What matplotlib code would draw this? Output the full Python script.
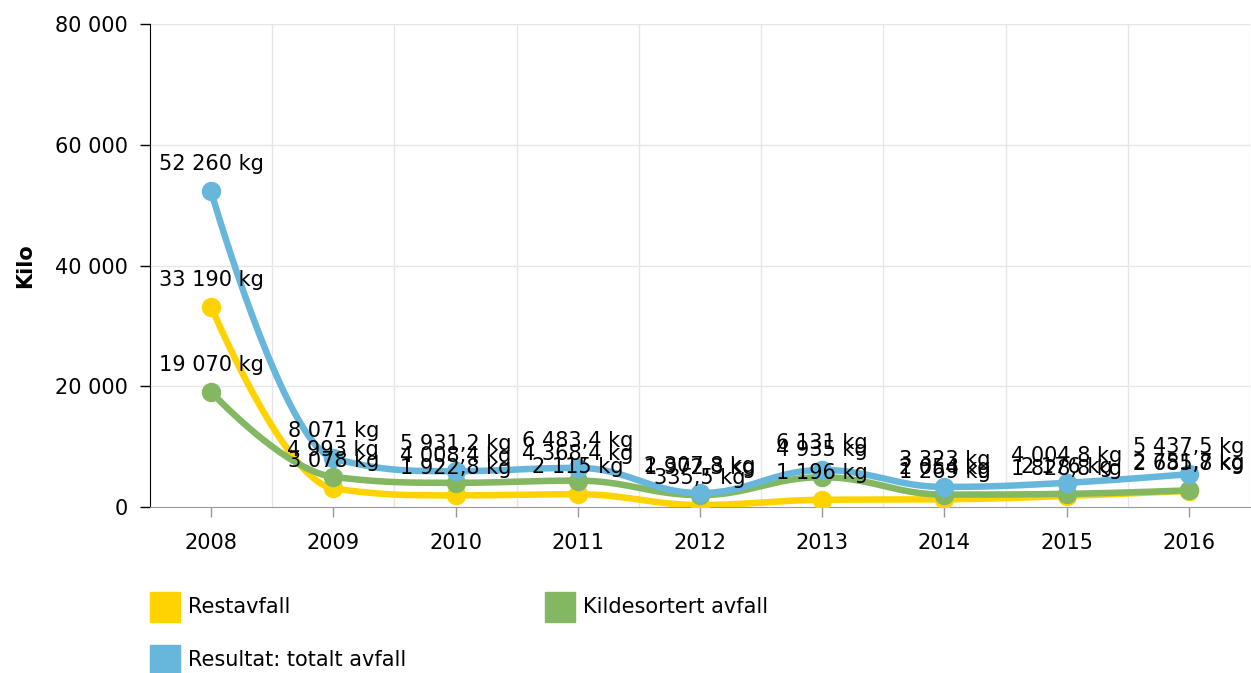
import numpy as np
import matplotlib.pyplot as plt
from matplotlib.patches import Rectangle

plt.rcParams["font.family"] = "DejaVu Sans"

years = ["2008", "2009", "2010", "2011", "2012", "2013", "2014", "2015", "2016"]
restavfall = [33190, 3078, 1922.8, 2115, 335.5, 1196, 1269, 1828.8, 2685.8]
kildesortert = [19070, 4993, 4008.4, 4368.4, 1972.3, 4935, 2054, 2176, 2751.7]
totalt = [52260, 8071, 5931.2, 6483.4, 2307.8, 6131, 3323, 4004.8, 5437.5]

Y_TICKS = [0, 20000, 40000, 60000, 80000]

YELLOW = "#ffd300"
GREEN = "#84b761"
BLUE = "#67b7dc"
FS = 15


def fmt(v):
    # norwegian style: space as thousands separator, comma decimal
    if float(v).is_integer():
        s = f"{int(v):,}".replace(",", " ")
    else:
        s = f"{v:,.1f}".replace(",", " ").replace(".", ",")
    return s + " kg"


def spline(xs, ys, n=40, smoothing=1.5):
    # highcharts-like spline through the points
    xs = list(map(float, xs))
    ys = list(map(float, ys))
    out_x, out_y = [xs[0]], [ys[0]]
    m = len(xs)
    left = [None] * m
    right = [None] * m
    denom = smoothing + 1
    for i in range(m):
        if i == 0 or i == m - 1:
            left[i] = (xs[i], ys[i])
            right[i] = (xs[i], ys[i])
            continue
        lx = (smoothing * xs[i] + xs[i - 1]) / denom
        ly = (smoothing * ys[i] + ys[i - 1]) / denom
        rx = (smoothing * xs[i] + xs[i + 1]) / denom
        ry = (smoothing * ys[i] + ys[i + 1]) / denom
        corr = (ry - ly) * (rx - xs[i]) / (rx - lx) + ys[i] - ry
        ly += corr
        ry += corr
        if ly > ys[i - 1] and ly > ys[i]:
            ly = max(ys[i - 1], ys[i])
            ry = 2 * ys[i] - ly
        elif ly < ys[i - 1] and ly < ys[i]:
            ly = min(ys[i - 1], ys[i])
            ry = 2 * ys[i] - ly
        if ry > ys[i + 1] and ry > ys[i]:
            ry = max(ys[i + 1], ys[i])
            ly = 2 * ys[i] - ry
        elif ry < ys[i + 1] and ry < ys[i]:
            ry = min(ys[i + 1], ys[i])
            ly = 2 * ys[i] - ry
        left[i] = (lx, ly)
        right[i] = (rx, ry)
    t = np.linspace(0, 1, n)[1:]
    for i in range(1, m):
        p0 = np.array([xs[i - 1], ys[i - 1]])
        p1 = np.array(right[i - 1])
        p2 = np.array(left[i])
        p3 = np.array([xs[i], ys[i]])
        b = ((1 - t) ** 3)[:, None] * p0 + (3 * (1 - t) ** 2 * t)[:, None] * p1 \
            + (3 * (1 - t) * t ** 2)[:, None] * p2 + (t ** 3)[:, None] * p3
        out_x.extend(b[:, 0])
        out_y.extend(b[:, 1])
    return np.array(out_x), np.array(out_y)


fig = plt.figure(figsize=(12.51, 6.73), dpi=100)
ax = fig.add_axes([150 / 1251, 1 - 507 / 673, 1100 / 1251, 483 / 673])

x = np.arange(len(years))
ax.set_xlim(-0.5, len(years) - 0.5)
ax.set_ylim(0, 80000)

for b in np.arange(0.5, len(years), 1.0):
    ax.axvline(b, color="#e6e6e6", lw=1, zorder=0)
for yv in Y_TICKS[1:]:
    ax.axhline(yv, color="#e6e6e6", lw=1, zorder=0)

for vals, col, z in [(restavfall, YELLOW, 3), (kildesortert, GREEN, 4), (totalt, BLUE, 5)]:
    sx, sy = spline(x, vals)
    ax.plot(sx, sy, color=col, lw=4.7, solid_capstyle="round", zorder=z)
    ax.plot(x, vals, "o", color=col, ms=13, zorder=z)

for vals in [restavfall, kildesortert, totalt]:
    for xi, v in zip(x, vals):
        ax.annotate(fmt(v), (xi, v), xytext=(0, 27), textcoords="offset pixels",
                    ha="center", va="center", fontsize=FS, color="black", zorder=10)

ax.set_yticks(Y_TICKS, [f"{v:,}".replace(",", " ") for v in Y_TICKS])
ax.set_xticks(x, years)
ax.tick_params(axis="y", length=7, width=1, color="black", labelsize=FS, pad=9)
ax.tick_params(axis="x", length=7, width=1, colors="#999999", labelcolor="black",
               labelsize=FS, pad=12)
for s in ["top", "right"]:
    ax.spines[s].set_visible(False)
ax.spines["left"].set_color("black")
ax.spines["bottom"].set_color("#999999")
ax.set_ylabel("Kilo", fontsize=FS, fontweight="bold")
ax.yaxis.set_label_coords((35 - 150) / 1100, 0.5)

legend_items = [("Restavfall", YELLOW, 150, 592), ("Kildesortert avfall", GREEN, 545, 592),
                ("Resultat: totalt avfall", BLUE, 150, 645)]
for label, col, px, py in legend_items:
    fig.patches.append(Rectangle((px / 1251, 1 - (py + 30) / 673), 30 / 1251, 30 / 673,
                                 transform=fig.transFigure, color=col))
    fig.text((px + 38) / 1251, 1 - (py + 15) / 673, label, fontsize=FS, va="center")

fig.savefig("out.png", dpi=100)
